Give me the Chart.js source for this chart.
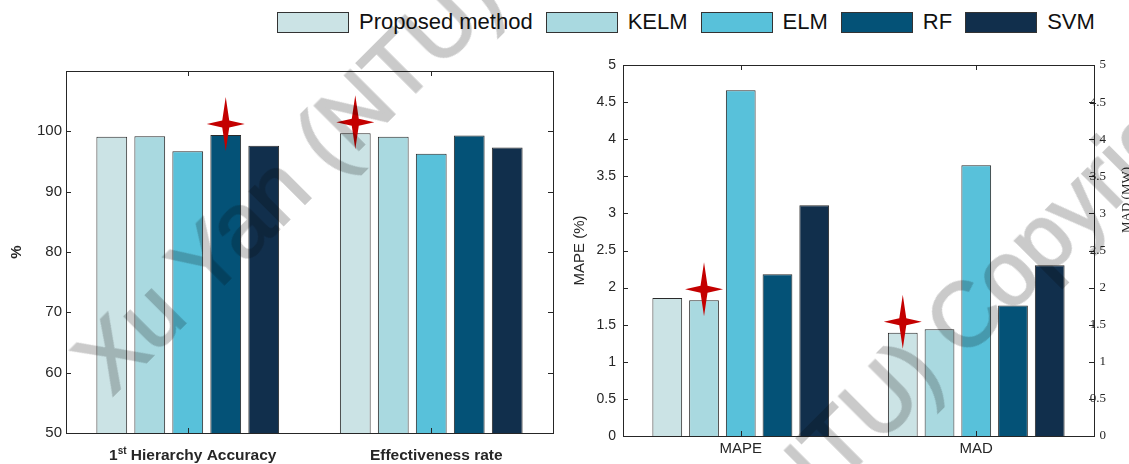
<!DOCTYPE html>
<html>
<head>
<meta charset="utf-8">
<script src="https://cdn.jsdelivr.net/npm/chart.js@4.4.1/dist/chart.umd.min.js"></script>
<style>
  html, body { margin: 0; padding: 0; background: #fff; overflow: hidden; }
  body { width: 1129px; height: 464px; position: relative; font-family: Arial, "Liberation Sans", sans-serif; }
  #legend { position: absolute; left: 277px; top: 9px; display: flex; align-items: center; font-size: 22px; color: #111; }
  .item { display: flex; align-items: center; margin-right: 13px; }
  .swatch { width: 70px; height: 19px; border: 1px solid #333; margin-right: 10px; }
  #leftBox { position: absolute; left: 0; top: 40px; width: 560px; height: 424px; }
  #rightBox { position: absolute; left: 560px; top: 40px; width: 580px; height: 424px; }
  .wm { position: absolute; font-family: Arial, "Liberation Sans", sans-serif; font-size: 90px; line-height: 90px;
        color: rgb(202,202,202); -webkit-text-stroke: 2px rgb(202,202,202); mix-blend-mode: multiply;
        white-space: nowrap; pointer-events: none;
        transform-origin: 0 45px; transform: rotate(-45deg); }
</style>
</head>
<body>
<div id="legend"></div>
<div id="leftBox"><canvas id="leftChart"></canvas></div>
<div id="rightBox"><canvas id="rightChart"></canvas></div>
<div class="wm" style="left:90px; top:330px;">Xu Yan (NTU) Copyright</div>
<div class="wm" style="left:530px; top:705px;">Xu Yan (NTU) Copyright</div>
<script>
// methods and colours
const methods = ['Proposed method', 'KELM', 'ELM', 'RF', 'SVM'];
const colors = ['#cbe3e5', '#a9d9e0', '#58c1da', '#045277', '#112f4c'];

// left panel: accuracy (%)
const leftCategories = ['1st Hierarchy Accuracy', 'Effectiveness rate'];
const accProposed = [99.1, 99.7];
const accKELM = [99.2, 99.1];
const accELM = [96.7, 96.3];
const accRF = [99.4, 99.3];
const accSVM = [97.6, 97.3];
const leftBest = [3, 0]; // index of starred method per category

// right panel: MAPE (%) and MAD (MW)
const rightCategories = ['MAPE', 'MAD'];
const errProposed = [1.86, 1.39];
const errKELM = [1.83, 1.44];
const errELM = [4.66, 3.65];
const errRF = [2.18, 1.76];
const errSVM = [3.11, 2.30];
const rightBest = [1, 0];

const leftSeries = [accProposed, accKELM, accELM, accRF, accSVM];
const rightSeries = [errProposed, errKELM, errELM, errRF, errSVM];

// html legend
const legend = document.getElementById('legend');
methods.forEach((m, i) => {
    const item = document.createElement('div');
    item.className = 'item';
    const sw = document.createElement('div');
    sw.className = 'swatch';
    sw.style.background = colors[i];
    const txt = document.createElement('span');
    txt.textContent = m;
    item.appendChild(sw);
    item.appendChild(txt);
    legend.appendChild(item);
});

const axisColor = '#262626';
const fmt = v => String(Number(v.toFixed(1)));

function drawStar(ctx, x, y) {
    const w = 19, h = 27, r = 3.5;
    ctx.beginPath();
    ctx.moveTo(x, y - h);
    ctx.lineTo(x + r, y - r);
    ctx.lineTo(x + w, y);
    ctx.lineTo(x + r, y + r);
    ctx.lineTo(x, y + h);
    ctx.lineTo(x - r, y + r);
    ctx.lineTo(x - w, y);
    ctx.lineTo(x - r, y - r);
    ctx.closePath();
    ctx.fillStyle = '#c40000';
    ctx.fill();
}

// matlab-like box with inward ticks, stars and custom labels
const boxPlugin = {
    id: 'matlabBox',
    afterDraw(chart, args, opts) {
        const { ctx, chartArea: a, scales } = chart;
        ctx.save();
        ctx.strokeStyle = axisColor;
        ctx.lineWidth = 1;
        ctx.strokeRect(Math.round(a.left) + 0.5, Math.round(a.top) + 0.5,
            Math.round(a.right - a.left), Math.round(a.bottom - a.top));
        const t = 5;
        ctx.beginPath();
        scales.y.ticks.forEach(tk => {
            const py = Math.round(scales.y.getPixelForValue(tk.value)) + 0.5;
            ctx.moveTo(a.left, py); ctx.lineTo(a.left + t, py);
            if (!scales.y1) { ctx.moveTo(a.right, py); ctx.lineTo(a.right - t, py); }
        });
        if (scales.y1) {
            scales.y1.ticks.forEach(tk => {
                const py = Math.round(scales.y1.getPixelForValue(tk.value)) + 0.5;
                ctx.moveTo(a.right, py); ctx.lineTo(a.right - t, py);
            });
        }
        scales.x.ticks.forEach((tk, i) => {
            const px = Math.round(scales.x.getPixelForValue(i)) + 0.5;
            ctx.moveTo(px, a.top); ctx.lineTo(px, a.top + t);
            ctx.moveTo(px, a.bottom); ctx.lineTo(px, a.bottom - t);
        });
        ctx.stroke();

        // right axis tick labels, serif, right aligned just outside the box
        if (scales.y1) {
            ctx.fillStyle = axisColor;
            ctx.font = '13px "Liberation Serif", "Times New Roman", serif';
            ctx.textAlign = 'right';
            ctx.textBaseline = 'middle';
            scales.y1.ticks.forEach(tk => {
                ctx.fillText(fmt(tk.value), a.right + 12, scales.y1.getPixelForValue(tk.value));
            });
        }

        // stars above best bars
        (opts.best || []).forEach((ds, i) => {
            const bar = chart.getDatasetMeta(ds).data[i];
            drawStar(ctx, bar.x, bar.y - 11);
        });

        // x labels with superscript ordinals
        if (opts.supLabels) {
            ctx.fillStyle = axisColor;
            ctx.textBaseline = 'alphabetic';
            ctx.textAlign = 'left';
            chart.data.labels.forEach((lab, i) => {
                const m = lab.match(/^(\d+)(st|nd|rd|th)(.*)$/);
                const parts = m ? [[m[1], 15.5, 0], [m[2], 10, -6], [m[3], 15.5, 0]] : [[lab, 15.5, 0]];
                let total = 0;
                parts.forEach(p => { ctx.font = 'bold ' + p[1] + 'px Arial, "Liberation Sans", sans-serif'; total += ctx.measureText(p[0]).width; });
                let x = scales.x.getPixelForValue(i) + 5 - total / 2;
                parts.forEach(p => {
                    ctx.font = 'bold ' + p[1] + 'px Arial, "Liberation Sans", sans-serif';
                    ctx.fillText(p[0], x, opts.labelY + p[2]);
                    x += ctx.measureText(p[0]).width;
                });
            });
        }

        // right axis title, reading upwards
        if (opts.rightTitle) {
            ctx.translate(opts.rightTitle.x, opts.rightTitle.y);
            ctx.rotate(-Math.PI / 2);
            ctx.fillStyle = axisColor;
            ctx.font = '13px "Liberation Serif", "Times New Roman", serif';
            ctx.textAlign = 'center';
            ctx.textBaseline = 'alphabetic';
            ctx.fillText(opts.rightTitle.text, 0, 0);
        }
        ctx.restore();
    }
};

function makeDatasets(series) {
    return series.map((data, i) => ({
        label: methods[i],
        data: data,
        backgroundColor: colors[i],
        borderColor: '#2a2a2a',
        borderWidth: 1,
        categoryPercentage: 0.78,
        barPercentage: 0.81
    }));
}

// left chart
new Chart(document.getElementById('leftChart').getContext('2d'), {
    type: 'bar',
    data: { labels: leftCategories, datasets: makeDatasets(leftSeries) },
    plugins: [boxPlugin],
    options: {
        responsive: true,
        maintainAspectRatio: false,
        animation: false,
        layout: { padding: { top: 31, right: 7, left: 0, bottom: 0 } },
        scales: {
            x: {
                grid: { display: false },
                border: { display: false },
                ticks: { callback: () => '' },
                afterFit: s => { s.height = 31; }
            },
            y: {
                min: 50, max: 110,
                grid: { display: false, drawTicks: false },
                border: { display: false },
                ticks: {
                    stepSize: 10, padding: 4, color: axisColor,
                    font: { family: 'Arial, "Liberation Sans", sans-serif', size: 15 },
                    callback: v => (v > 100 ? '' : v)
                },
                title: {
                    display: true, text: '%', color: axisColor,
                    font: { family: 'Arial, "Liberation Sans", sans-serif', size: 15, weight: 'bold' },
                    padding: { top: 8, bottom: 0 }
                },
                afterFit: s => { s.width = 66; }
            }
        },
        plugins: {
            legend: { display: false },
            tooltip: { enabled: false },
            matlabBox: { best: leftBest, supLabels: true, labelY: 420 }
        }
    }
});

// right chart
new Chart(document.getElementById('rightChart').getContext('2d'), {
    type: 'bar',
    data: { labels: rightCategories, datasets: makeDatasets(rightSeries) },
    plugins: [boxPlugin],
    options: {
        responsive: true,
        maintainAspectRatio: false,
        animation: false,
        layout: { padding: { top: 25, right: 0, left: 0, bottom: 0 } },
        scales: {
            x: {
                grid: { display: false, drawTicks: false },
                border: { display: false },
                ticks: {
                    padding: 4, color: axisColor,
                    font: { family: 'Arial, "Liberation Sans", sans-serif', size: 15 }
                },
                afterFit: s => { s.height = 28; }
            },
            y: {
                min: 0, max: 5,
                grid: { display: false, drawTicks: false },
                border: { display: false },
                ticks: {
                    stepSize: 0.5, padding: 7, color: axisColor,
                    font: { family: 'Arial, "Liberation Sans", sans-serif', size: 14 },
                    callback: v => fmt(v)
                },
                title: {
                    display: true, text: 'MAPE (%)', color: axisColor,
                    font: { family: 'Arial, "Liberation Sans", sans-serif', size: 15 },
                    padding: { top: 11, bottom: 0 }
                },
                afterFit: s => { s.width = 63; }
            },
            y1: {
                position: 'right',
                min: 0, max: 5,
                grid: { display: false, drawTicks: false },
                border: { display: false },
                ticks: { stepSize: 0.5, display: false },
                afterFit: s => { s.width = 46; }
            }
        },
        plugins: {
            legend: { display: false },
            tooltip: { enabled: false },
            matlabBox: { best: rightBest, rightTitle: { text: 'MAD (MW)', x: 570, y: 160 } }
        }
    }
});
</script>
</body>
</html>
